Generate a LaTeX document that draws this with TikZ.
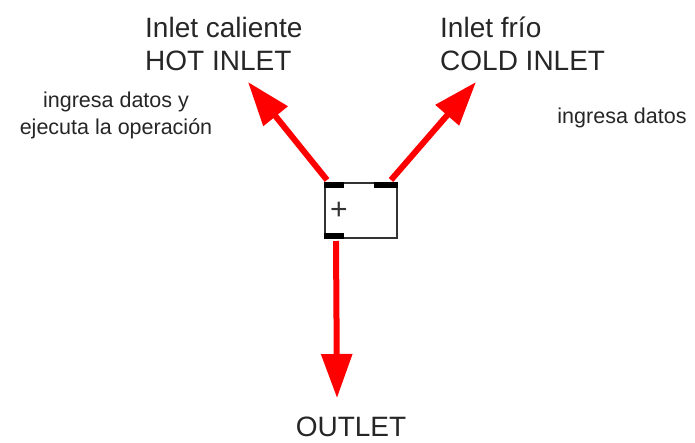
\documentclass[tikz,border=0pt]{standalone}
\usepackage{fontspec}
\setmainfont{Liberation Sans}
\usetikzlibrary{arrows.meta,calc}
\begin{document}
\begin{tikzpicture}[x=1pt,y=-1pt,
  big/.style={font=\fontsize{28}{33}\selectfont, inner sep=0pt, anchor=base west, text=black!85},
  small/.style={font=\fontsize{21.5}{26}\selectfont, inner sep=0pt, anchor=base, text=black!85},
  flow/.style={draw=red, line width=6pt, -{Triangle[length=44pt,width=30pt]}},
  tab/.style={fill=black, draw=none}]
\useasboundingbox (0,0) rectangle (695,442);
% labels
\node[big] (hot1) at (145,37) {Inlet caliente};
\node[big] (hot2) at (145,70) {HOT INLET};
\node[big] (cold1) at (440,37) {Inlet frío};
\node[big] (cold2) at (440,70) {COLD INLET};
\node[small] (note1) at (116,107) {ingresa datos y};
\node[small] (note2) at (116,134) {ejecuta la operación};
\node[small] (note3) at (622,123) {ingresa datos};
\node[big, anchor=base] (out) at (351,436) {OUTLET};
% mixer
\node[draw=black!80, line width=2pt, minimum width=72pt, minimum height=55pt, inner sep=0pt, fill=white] (mix) at (361,210.5) {};
\coordinate (hottip) at (248,82);
\coordinate (coldtip) at (476,82);
\coordinate (outtip) at (337,398);
\draw[flow] ($(mix.north west)+(3,-2)$) -- (hottip);
\draw[flow] ($(mix.north east)+(-7,-2)$) -- (coldtip);
\draw[flow] ($(mix.south west)+(12,2)$) -- (outtip);
\fill[tab] (mix.north west) rectangle ++(20,6);
\fill[tab] (mix.north east) rectangle ++(-24,6);
\fill[tab] (mix.south west) rectangle ++(20,-6);
\node[inner sep=0pt, font=\fontsize{30}{30}\selectfont, text=black!80] (plus) at (339,211) {+};
\end{tikzpicture}
\end{document}
